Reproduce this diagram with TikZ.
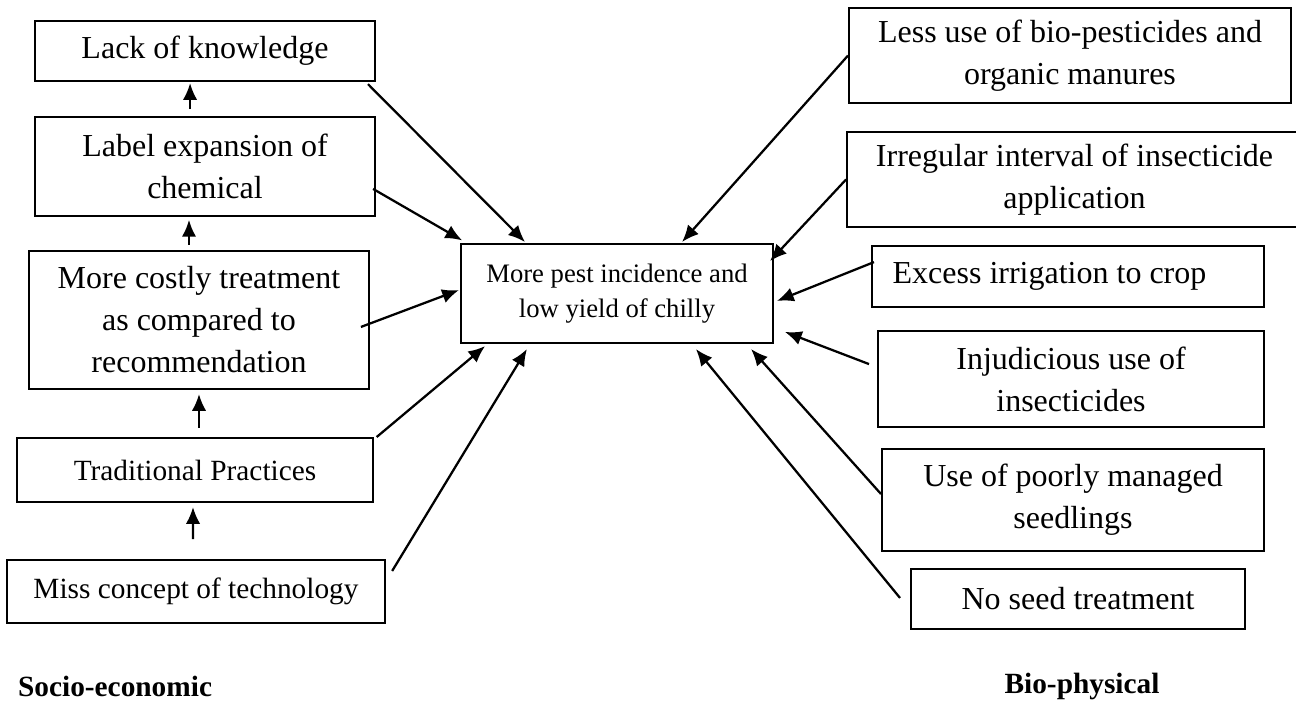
\documentclass[tikz,border=0pt]{standalone}
\usepackage{fontspec}
\setmainfont{Liberation Serif}
\usetikzlibrary{arrows.meta}

\begin{document}
\begin{tikzpicture}[x=0.375pt,y=-0.375pt,>={Latex[length=6.3pt,width=5.4pt]},line width=0.85pt,
	cause/.style={draw,line width=0.75pt,inner sep=0pt,align=center,font=\fontsize{12}{15.75}\selectfont},
	smallcause/.style={cause,font=\fontsize{11}{14}\selectfont},
	group/.style={inner sep=0pt,font=\fontsize{11}{13}\selectfont\bfseries}]
	\useasboundingbox (0,0) rectangle (1296,702);
	\node[cause,minimum width=127.5pt,minimum height=22.5pt] (lack) at (205,51) {Lack of knowledge};
	\node[cause,minimum width=127.5pt,minimum height=37.1pt] (label) at (205,166.5) {Label expansion of\\chemical};
	\node[cause,minimum width=127.5pt,minimum height=51.75pt] (costly) at (199,320) {More costly treatment\\as compared to\\recommendation};
	\node[smallcause,minimum width=133.5pt,minimum height=24pt] (trad) at (195,470) {Traditional Practices};
	\node[smallcause,minimum width=141.75pt,minimum height=23.6pt] (miss) at (196,591.5) {Miss concept of technology};
	\node[cause,font=\fontsize{10}{13.1}\selectfont,minimum width=117pt,minimum height=37.1pt] (pest) at (617,293.5) {More pest incidence and\\low yield of chilly};
	\node[cause,minimum width=165.75pt,minimum height=35.6pt] (lessuse) at (1070,55.5) {Less use of bio-pesticides and\\organic manures};
	\node[cause,minimum width=170.6pt,minimum height=35.6pt] (irregular) at (1074.5,179.5) {Irregular interval of insecticide\\application};
	\node[cause,minimum width=147pt,minimum height=22.9pt] (excess) at (1068,276.5) {Excess irrigation to crop\hspace*{13.9pt}};
	\node[cause,minimum width=144.75pt,minimum height=36pt] (injud) at (1071,379) {Injudicious use of\\insecticides};
	\node[cause,minimum width=143.25pt,minimum height=38.25pt] (poorly) at (1073,500) {Use of poorly managed\\seedlings};
	\node[cause,minimum width=125.25pt,minimum height=22.5pt] (noseed) at (1078,599) {No seed treatment};
	\node[group,anchor=west] (socio) at (17,686) {Socio-economic};
	\node[group] (bio) at (1082,686) {Bio-physical};
	\draw[->] ([xshift=-5.6pt,yshift=2.6pt]label.north) -- ([xshift=-5.6pt,yshift=-0.4pt]lack.south);
	\draw[->] ([xshift=-3.75pt,yshift=1.9pt]costly.north) -- ([xshift=-6pt,yshift=-1.1pt]label.south);
	\draw[->] ([xshift=1.5pt,yshift=3.4pt]trad.north) -- ([xshift=0pt,yshift=-1.5pt]costly.south);
	\draw[->] ([xshift=-1.1pt,yshift=7.5pt]miss.north) -- ([xshift=-0.75pt,yshift=-1.5pt]trad.south);
	\draw[->] ([xshift=-3pt,yshift=-0.8pt]lack.south east) -- ([xshift=-34.5pt,yshift=0.4pt]pest.north);
	\draw[->] ([xshift=-1.1pt,yshift=-8.4pt]label.east) -- ([xshift=0.8pt,yshift=1pt]pest.north west);
	\draw[->] ([xshift=-3.4pt,yshift=-2.6pt]costly.east) -- ([xshift=-0.4pt,yshift=1.3pt]pest.west);
	\draw[->] ([xshift=1pt]trad.north east) -- ([xshift=9.4pt,yshift=-0.8pt]pest.south west);
	\draw[->] ([xshift=2.3pt,yshift=7.7pt]miss.east) -- ([xshift=25.1pt,yshift=-1.9pt]pest.south west);
	\draw[->] (lessuse.west) -- ([xshift=24.4pt,yshift=0.4pt]pest.north);
	\draw[->] (irregular.west) -- ([xshift=-1.5pt,yshift=-6.75pt]pest.north east);
	\draw[->] ([xshift=1.1pt,yshift=5.4pt]excess.west) -- ([xshift=1.1pt,yshift=-2.8pt]pest.east);
	\draw[->] ([xshift=-3pt,yshift=5.6pt]injud.west) -- ([xshift=4.1pt,yshift=-14.4pt]pest.east);
	\draw[->] ([yshift=2.25pt]poorly.west) -- ([xshift=-8.6pt,yshift=-1.9pt]pest.south east);
	\draw[->] ([xshift=-3.75pt,yshift=0.4pt]noseed.west) -- ([xshift=29.6pt,yshift=-1.9pt]pest.south);
\end{tikzpicture}
\end{document}
